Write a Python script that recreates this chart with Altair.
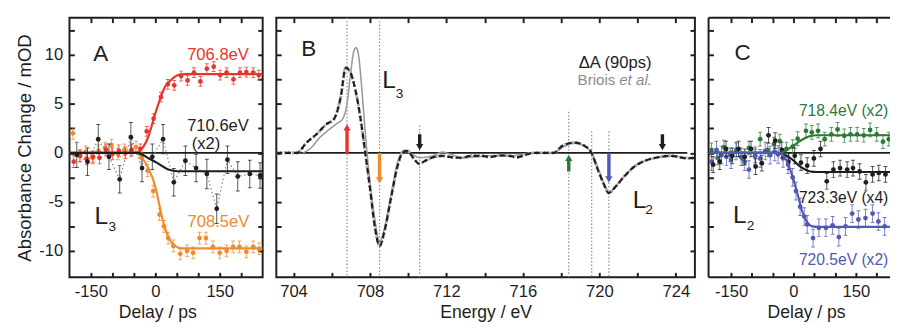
import altair as alt
import pandas as pd

FONT = "Liberation Sans"
INK = "#1e1e1e"
RED, ORANGE, GREEN, BLUE = "#e8352c", "#f08a2c", "#2c7a37", "#5059b3"
GRAY_DOT = "#8a8a8a"
BRIOIS_GRAY = "#9a9a9a"

# ---------------- shared scales / ticks ----------------
Y_DOMAIN = [-12.7, 13.8]
Y_TICKS = [-10, -7.5, -5, -2.5, 0, 2.5, 5, 7.5, 10, 12.5]
DELAY_TICKS = [-150, -100, -50, 0, 50, 100, 150, 200]
ENERGY_TICKS = [704, 706, 708, 710, 712, 714, 716, 718, 720, 722, 724]
A_DOMAIN = [-200, 250]
B_DOMAIN = [703.1, 725.0]
C_DOMAIN = [-204, 232]
PANEL_H = 266
A_W, B_W, C_W = 198, 429, 186

# ---------------- panel A (L3 kinetics) ----------------
A_red_t = [-190, -175, -160, -145, -130, -115, -100, -85, -70, -55, -35, -20, -4, 13, 29, 44, 60, 75,
           90, 105, 120, 136, 151, 166, 182, 197, 212, 228, 241]
A_red_v = [-0.9, -0.3, -0.6, -0.4, -0.5, 0.3, -0.1, 0.2, 0.0, 0.3, 0.4, 2.2, 3.5, 5.7, 7.0, 6.9, 7.85, 7.4,
           8.2, 7.3, 8.6, 8.8, 7.95, 8.2, 7.5, 8.2, 8.25, 8.2, 7.95]
A_red_e = [0.6] * 10 + [0.5] * 19

A_orange_t = [-192, -177, -162, -147, -132, -117, -102, -87, -72, -57, -45, -32, -18, -5, 10, 20, 30, 42, 58,
              74, 88, 103, 118, 134, 150, 166, 181, 196, 212, 228, 242]
A_orange_v = [2.0, -0.3, 0.1, -0.5, 0.2, 0.5, 0.8, -0.1, 0.3, 0.2, 0.6, -0.5, -1.8, -3.9, -6.3, -7.5, -8.7,
              -9.5, -10.3, -10.0, -10.2, -8.7, -8.7, -9.6, -10.2, -10.0, -9.6, -9.6, -10.1, -9.6, -9.8]
A_orange_e = [0.6] * 31

A_black_t = [-183, -158, -133, -108, -83, -57, -31, -7, 18, 43, 70, 95, 120, 143, 168, 192, 220, 244]
A_black_v = [-0.2, -0.9, 1.4, -0.4, -2.7, 1.6, -1.55, -0.4, 1.4, -3.0, -0.8, -1.55, -2.15, -5.7, -0.7, -2.4,
             -2.15, -2.3]
A_black_e = [1.3, 1.4, 1.5, 1.3, 1.4, 1.5, 1.4, 1.3, 1.5, 1.4, 1.5, 1.4, 1.5, 1.5, 1.4, 1.5, 1.4, 1.3]

A_red_fit_t = [-200, -45, -32, -16, -1, 11, 22, 38, 53, 69, 250]
A_red_fit_v = [0, 0, 0.38, 1.7, 3.9, 5.5, 6.7, 7.5, 7.96, 8.05, 8.05]
A_orange_fit_t = [-200, -45, -32, -16, -1, 7, 14, 22, 34, 46, 61, 250]
A_orange_fit_v = [0, 0, -0.45, -1.6, -3.3, -4.8, -6.3, -7.6, -8.9, -9.5, -9.75, -9.75]
A_black_fit_t = [-200, -42, -16, 7, 30, 53, 250]
A_black_fit_v = [0, 0, -0.55, -1.1, -1.7, -1.87, -1.87]

# ---------------- panel B (spectra) ----------------
B_dA_E = [703.1, 703.6, 704.17, 704.68, 705.2, 705.7, 706.13, 706.47, 706.73, 706.98,
          707.24, 707.49, 707.75, 708.0, 708.26, 708.5, 708.77, 709.1, 709.45, 709.7,
          709.96, 710.3, 710.56, 710.9, 711.3, 711.8, 712.3, 712.8, 713.3, 713.8,
          714.3, 714.8, 715.3, 715.7, 716.2, 716.6, 717.0, 717.62, 718.05, 718.7,
          719.24, 719.58, 719.9, 720.26, 720.48, 720.85, 721.28, 721.8, 722.4, 723.07,
          723.75, 724.6, 725.0]
B_dA_v = [0, 0, 0, 1.05, 1.9, 2.9, 3.5, 5.7, 8.7, 8.2,
          6.4, 3.7, 0.05, -3.6, -7.6, -9.5, -7.9, -4.6, -1.3, 0,
          0.2, -0.6, -1.1, -0.8, -0.45, -0.3, -0.45, -0.5, -0.3, -0.3,
          -0.4, -0.25, -0.3, -0.45, -0.15, 0, 0, 0, 0.7, 1.05,
          0.7, 0.05, -1.6, -3.3, -4.1, -3.45, -2.45, -1.45, -0.8, -0.45,
          -0.3, -0.55, -0.5]
B_briois_E = [704.5, 704.94, 705.36, 705.87, 706.3, 706.55, 706.8, 706.98, 707.15, 707.27,
              707.4, 707.58, 707.78, 708.0, 708.26, 708.5, 708.77, 709.1, 709.45, 709.8,
              710.1, 710.6, 711.3, 711.8, 712.3, 712.8, 713.5, 714.3, 715.2, 715.8,
              716.5, 717.6, 718.1, 718.7, 719.3, 719.6, 720.0, 720.3, 720.5, 720.9,
              721.3, 721.8, 722.4, 723.1, 723.8, 724.6]
B_briois_v = [0, 0.55, 1.55, 2.4, 3.05, 3.4, 5.0, 8.0, 10.35, 10.75,
              10.0, 6.4, 1.4, -2.9, -6.9, -9.1, -7.6, -4.3, -0.9, 0.3,
              0, -0.5, -0.3, 0.1, -0.2, -0.5, -0.4, -0.3, -0.35, -0.2,
              0, 0, 0.6, 1.0, 0.6, 0, -1.9, -3.4, -4.0, -3.3,
              -2.4, -1.4, -0.8, -0.45, -0.35, -0.5]
B_zero_E = [704.2, 724.6]
B_marker_E = [706.8, 708.5, 710.6, 718.4, 719.6, 720.5]
B_marker_top = [13.8, 13.8, 2.8, 4.2, 2.2, 2.2]
B_arrow_E = [706.8, 708.5, 710.6, 718.4, 720.5, 723.3]
B_arrow_from = [0.0, 0.0, 1.9, -1.9, 0.0, 1.9]
B_arrow_to = [2.6, -2.8, 0.6, -0.5, -2.7, 0.6]
B_arrow_color = [RED, ORANGE, INK, GREEN, BLUE, INK]

# ---------------- panel C (L2 kinetics) ----------------
C_green_t = [-197, -182, -167, -152, -137, -122, -107, -92, -80, -62, -47, -33, -17, -2, 10,
             30, 44, 59, 75, 91, 106, 122, 137, 153, 169, 184, 200, 215, 229]
C_green_v = [0.3, -0.5, 0.6, -0.2, 0.3, -0.6, 0.5, -0.3, 1.4, 0.3, 0.9, 1.2, 0.4, 0.65, 1.45,
             2.25, 2.1, 2.25, 1.4, 1.9, 2.4, 1.75, 1.9, 1.9, 1.8, 2.35, 1.9, 1.15, 1.4]
C_green_e = [0.7] * 29
C_black_t = [-193, -177, -162, -147, -132, -117, -102, -91, -76, -60, -44, -28, -12, 3, 18, 33, 49, 65,
             80, 96, 112, 129, 143, 159, 174, 190, 205, 221]
C_black_v = [-1.2, -0.9, 0.4, -0.3, 0.4, -0.4, 0.4, -1.4, -1.05, 1.8, 1.25, 0.3, -0.9, -0.3, -1.0, -1.3,
             -0.56, 0.4, -2.9, -1.7, -1.55, -1.7, -1.55, -1.9, -3.0, -2.2, -2.05, -2.2]
C_black_e = [0.8] * 28
C_blue_t = [-197, -185, -173, -161, -150, -138, -126, -117, -107, -92, -80, -68, -56, -45, -37, -25, -13,
            -2, 6, 16, 26, 33, 47, 61, 78, 94, 109, 125, 141, 156, 173, 190, 204, 219]
C_blue_v = [-0.9, 0.3, -0.23, -0.4, -0.7, 0.2, -0.4, -0.9, -1.7, -0.3, -0.56, 0.2, -0.23, 0.1, -0.16,
            -0.56, -1.2, -2.5, -3.9, -5.5, -6.5, -7.3, -8.7, -7.65, -7.65, -7.4, -8.6, -7.5, -6.2, -6.8,
            -6.65, -6.2, -7.0, -7.5]
C_blue_e = [0.9] * 34
C_green_fit_t = [-204, -35, -20, -5, 10, 25, 41, 55, 232]
C_green_fit_v = [0, 0, 0.2, 0.6, 1.05, 1.45, 1.72, 1.8, 1.8]
C_black_fit_t = [-204, -37, -20, -5, 18, 41, 55, 232]
C_black_fit_v = [0, 0, -0.25, -0.6, -1.45, -1.9, -1.95, -1.95]
C_blue_fit_t = [-204, -33, -17, -2, 10, 22, 33, 45, 60, 232]
C_blue_fit_v = [0, 0, -0.75, -2.45, -4.25, -6.1, -7.1, -7.5, -7.55, -7.55]


# ---------------- helpers ----------------
def sc(dom):
    return alt.Scale(domain=dom, nice=False, zero=False)


def X(dom, f="x"):
    return alt.X(f + ":Q", scale=sc(dom), axis=None)


def Y(f="y"):
    return alt.Y(f + ":Q", scale=sc(Y_DOMAIN), axis=None)


def line(dom, xs, ys, color, width=2.2, dash=None, interp="monotone"):
    df = pd.DataFrame({"x": xs, "y": ys})
    kw = dict(color=color, strokeWidth=width, interpolate=interp, clip=True)
    if dash:
        kw["strokeDash"] = dash
    return alt.Chart(df).mark_line(**kw).encode(x=X(dom), y=Y())


def series(dom, t, v, e, color):
    df = pd.DataFrame({"x": t, "y": v, "e": e})
    df["lo"] = df["y"] - df["e"]
    df["hi"] = df["y"] + df["e"]
    base = alt.Chart(df)
    bars = base.mark_rule(color=color, strokeWidth=1, opacity=0.75, clip=True).encode(
        x=X(dom), y=Y("lo"), y2="hi:Q")
    cap_lo = base.mark_tick(color=color, orient="horizontal", size=4, thickness=1, opacity=0.75,
                            clip=True).encode(x=X(dom), y=Y("lo"))
    cap_hi = base.mark_tick(color=color, orient="horizontal", size=4, thickness=1, opacity=0.75,
                            clip=True).encode(x=X(dom), y=Y("hi"))
    pts = base.mark_circle(color=color, size=24, opacity=1, clip=True).encode(x=X(dom), y=Y())
    return [bars, cap_lo, cap_hi, pts]


def label(dom, x, y, text, color=INK, size=17, align="center", style="normal", clip=False):
    df = pd.DataFrame({"x": [x], "y": [y], "t": [text]})
    return alt.Chart(df).mark_text(font=FONT, fontSize=size, color=color, align=align,
                                   baseline="middle", fontStyle=style, clip=clip).encode(
        x=X(dom), y=Y(), text="t:N")


def axis(orient, values, expr=None, title=None, title_x=None):
    kw = dict(orient=orient, values=values, tickSize=5, offset=-5, domain=False, grid=False,
              tickColor=INK, tickWidth=2, labelOverlap=False, labelFlush=False)
    if expr:
        kw.update(labels=True, labelExpr=expr, labelFont=FONT, labelFontSize=17, labelColor=INK,
                  labelPadding=7)
    else:
        kw["labels"] = False
    if title:
        kw.update(title=title, titleFont=FONT, titleFontSize=18, titleFontWeight="normal",
                  titleColor=INK, titlePadding=4)
        if title_x is not None:
            kw["titleX"] = title_x
    else:
        kw["title"] = None
    return alt.Axis(**kw)


def frame(dom, xb, yl, xt, yr):
    df = pd.DataFrame({"x": [dom[0]], "y": [0]})
    base = alt.Chart(df).mark_point(opacity=0)
    c1 = base.encode(x=alt.X("x:Q", scale=sc(dom), axis=xb),
                     y=alt.Y("y:Q", scale=sc(Y_DOMAIN), axis=yl))
    c2 = base.encode(x=alt.X("x:Q", scale=sc(dom), axis=xt),
                     y=alt.Y("y:Q", scale=sc(Y_DOMAIN), axis=yr))
    return [c1, c2]


DELAY_EXPR = "datum.value % 150 === 0 ? replace(datum.label, '\u2212', '-') : ''"
Y_EXPR = "datum.value % 5 === 0 ? replace(datum.label, '\u2212', '-') : ''"
E_EXPR = "datum.value % 4 === 0 ? datum.label : ''"

# ---------------- panel A ----------------
y_left_A = axis("left", Y_TICKS, Y_EXPR, "Absorbance Change / mOD")
y_left_A.titleFontSize = 19
layersA = frame(A_DOMAIN,
                axis("bottom", DELAY_TICKS, DELAY_EXPR, "Delay / ps", title_x=90),
                y_left_A,
                axis("top", DELAY_TICKS),
                axis("right", Y_TICKS))
layersA += [line(A_DOMAIN, [A_DOMAIN[0], A_DOMAIN[1]], [0, 0], INK, 2, interp="linear"),
            line(A_DOMAIN, A_black_t, A_black_v, GRAY_DOT, 1.3, dash=[1.5, 2.5], interp="linear")]
layersA += series(A_DOMAIN, A_orange_t, A_orange_v, A_orange_e, ORANGE)
layersA += series(A_DOMAIN, A_red_t, A_red_v, A_red_e, RED)
layersA += series(A_DOMAIN, A_black_t, A_black_v, A_black_e, INK)
layersA += [line(A_DOMAIN, A_red_fit_t, A_red_fit_v, RED),
            line(A_DOMAIN, A_orange_fit_t, A_orange_fit_v, ORANGE),
            line(A_DOMAIN, A_black_fit_t, A_black_fit_v, INK)]
layersA += [label(A_DOMAIN, -127, 10.1, "A", size=23),
            label(A_DOMAIN, 146, 10.0, "706.8eV", RED),
            label(A_DOMAIN, 146, 2.7, "710.6eV"),
            label(A_DOMAIN, 118, 0.9, "(x2)"),
            label(A_DOMAIN, -126, -6.5, "L", size=25),
            label(A_DOMAIN, -100, -7.6, "3", size=14),
            label(A_DOMAIN, 147, -7.1, "708.5eV", ORANGE)]
panelA = alt.layer(*layersA).resolve_axis(x="independent", y="independent").properties(
    width=A_W, height=PANEL_H)

# ---------------- panel B ----------------
layersB = frame(B_DOMAIN,
                axis("bottom", ENERGY_TICKS, E_EXPR, "Energy / eV"),
                axis("left", Y_TICKS),
                axis("top", ENERGY_TICKS),
                axis("right", Y_TICKS))
markers = pd.DataFrame({"x": B_marker_E, "top": B_marker_top, "bot": [Y_DOMAIN[0]] * len(B_marker_E)})
layersB.append(alt.Chart(markers).mark_rule(color=GRAY_DOT, strokeWidth=1.2, strokeDash=[1.5, 2]).encode(
    x=X(B_DOMAIN), y=Y("top"), y2="bot:Q"))
layersB += [line(B_DOMAIN, B_zero_E, [0, 0], INK, 2, interp="linear"),
            line(B_DOMAIN, B_briois_E, B_briois_v, BRIOIS_GRAY, 1.6),
            line(B_DOMAIN, B_dA_E, B_dA_v, "#a8a8a8", 3.2, dash=[2, 2]),
            line(B_DOMAIN, B_dA_E, B_dA_v, INK, 2.2, dash=[6, 3])]
arrows = pd.DataFrame({"x": B_arrow_E, "y0": B_arrow_from, "y1": B_arrow_to, "c": B_arrow_color,
                       "s": ["triangle-up" if b > a else "triangle-down"
                             for a, b in zip(B_arrow_from, B_arrow_to)]})
layersB.append(alt.Chart(arrows).mark_rule(strokeWidth=3.5).encode(
    x=X(B_DOMAIN), y=Y("y0"), y2="y1:Q", color=alt.Color("c:N", scale=None)))
layersB.append(alt.Chart(arrows).mark_point(filled=True, size=55, opacity=1).encode(
    x=X(B_DOMAIN), y=Y("y1"), color=alt.Color("c:N", scale=None), shape=alt.Shape("s:N", scale=None)))
layersB += [label(B_DOMAIN, 704.8, 10.6, "B", size=23),
            label(B_DOMAIN, 709.0, 7.4, "L", size=25),
            label(B_DOMAIN, 709.55, 6.0, "3", size=14),
            label(B_DOMAIN, 722.73, 9.2, "\u0394A (90ps)", align="right"),
            label(B_DOMAIN, 720.84, 7.4, "Briois", "#8c8c8c", size=15.5, align="right"),
            label(B_DOMAIN, 721.04, 7.4, "et al.", "#8c8c8c", size=15.5, align="left", style="italic"),
            label(B_DOMAIN, 722.1, -4.8, "L", size=25),
            label(B_DOMAIN, 722.6, -5.8, "2", size=14)]
panelB = alt.layer(*layersB).resolve_axis(x="independent", y="independent").properties(
    width=B_W, height=PANEL_H)

# ---------------- panel C ----------------
layersC = frame(C_DOMAIN,
                axis("bottom", DELAY_TICKS, DELAY_EXPR, "Delay / ps", title_x=100),
                axis("left", Y_TICKS),
                axis("top", DELAY_TICKS),
                None)
edge = pd.DataFrame({"k": [0]})
layersC += [
    alt.Chart(edge).mark_rule(color=INK, strokeWidth=2).encode(
        x=alt.value(0), y=alt.value(0), y2=alt.value(PANEL_H)),
    alt.Chart(edge).mark_rule(color=INK, strokeWidth=2).encode(
        x=alt.value(0), x2=alt.value(C_W), y=alt.value(0)),
    alt.Chart(edge).mark_rule(color=INK, strokeWidth=2).encode(
        x=alt.value(0), x2=alt.value(C_W), y=alt.value(PANEL_H)),
]
layersC.append(line(C_DOMAIN, [C_DOMAIN[0], C_DOMAIN[1]], [0, 0], INK, 2, interp="linear"))
layersC += series(C_DOMAIN, C_green_t, C_green_v, C_green_e, GREEN)
layersC += series(C_DOMAIN, C_blue_t, C_blue_v, C_blue_e, BLUE)
layersC += series(C_DOMAIN, C_black_t, C_black_v, C_black_e, INK)
layersC += [line(C_DOMAIN, C_green_fit_t, C_green_fit_v, GREEN),
            line(C_DOMAIN, C_black_fit_t, C_black_fit_v, INK),
            line(C_DOMAIN, C_blue_fit_t, C_blue_fit_v, BLUE)]
layersC += [label(C_DOMAIN, -122, 10.2, "C", size=23),
            label(C_DOMAIN, 13, 4.3, "718.4eV (x2)", GREEN, size=16, align="left"),
            label(C_DOMAIN, 13, -4.6, "723.3eV (x4)", size=16, align="left"),
            label(C_DOMAIN, 13, -10.9, "720.5eV (x2)", BLUE, size=16, align="left"),
            label(C_DOMAIN, -129, -6.4, "L", size=25),
            label(C_DOMAIN, -103, -7.5, "2", size=14)]
panelC = alt.layer(*layersC).resolve_axis(x="independent", y="independent").properties(
    width=C_W, height=PANEL_H, view=alt.ViewBackground(stroke="transparent"))

chart = alt.hconcat(panelA, panelB, panelC, spacing=8).properties(
    padding={"left": 7, "top": 4, "right": 0, "bottom": 2}, background="white"
).configure_view(stroke=INK, strokeWidth=2)

chart.save("out.html", embed_options={"renderer": "svg", "actions": False})
